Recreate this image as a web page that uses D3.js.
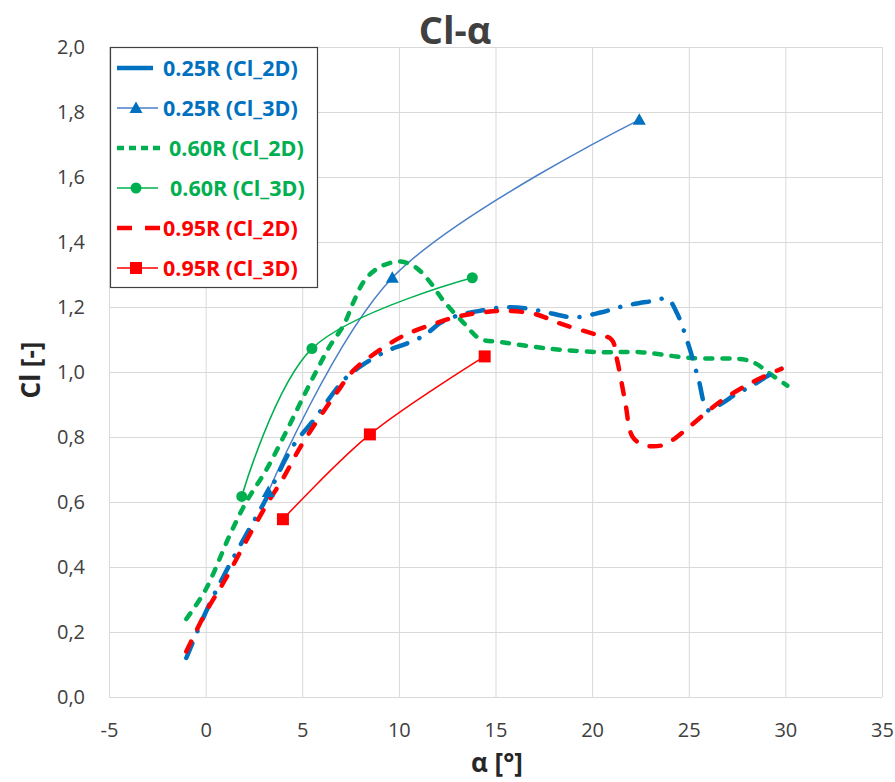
<!DOCTYPE html>
<html>
<head>
<meta charset="utf-8">
<script src="https://cdn.jsdelivr.net/npm/d3@7"></script>
<style>
  body { margin: 0; background: #fff; }
  svg { font-family: "Open Sans", sans-serif; }
</style>
</head>
<body>
<svg width="895" height="782"></svg>
<script>
const xTicks = [-5, 0, 5, 10, 15, 20, 25, 30, 35]
const yTicks = [0, 0.2, 0.4, 0.6, 0.8, 1.0, 1.2, 1.4, 1.6, 1.8, 2.0]

// 0.25R Cl_2D
const blue2dA = [-1.0, 0.0, 1.0, 2.1, 3.0, 4.5, 5.7, 6.7, 7.3, 8.2, 9.5, 10.3, 11.3, 12.2, 13.3, 14.4, 15.4, 16.7, 17.9, 19.1, 20.5, 21.7, 23.1, 23.9, 24.4, 25.0, 25.5, 26.0, 26.7, 27.5, 28.3, 29.0, 29.8]
const blue2dC = [0.12, 0.26, 0.38, 0.50, 0.595, 0.77, 0.86, 0.943, 0.984, 1.025, 1.068, 1.085, 1.112, 1.153, 1.178, 1.19, 1.199, 1.195, 1.18, 1.168, 1.184, 1.204, 1.218, 1.225, 1.18, 1.081, 0.979, 0.882, 0.903, 0.934, 0.958, 0.985, 1.01]
// 0.25R Cl_3D
const blue3dA = [3.24, 9.66, 22.44]
const blue3dC = [0.631, 1.29, 1.776]
// 0.60R Cl_2D
const green2dA = [-1.0, 0.0, 1.25, 2.1, 3.15, 4.2, 5.05, 5.75, 6.44, 7.15, 7.65, 8.2, 8.8, 9.4, 10.1, 10.8, 11.5, 12.3, 13.4, 14.2, 15.3, 17.9, 20.5, 22.5, 25.1, 27.9, 28.5, 29.1, 30.1]
const green2dC = [0.24, 0.33, 0.498, 0.60, 0.70, 0.82, 0.923, 1.005, 1.081, 1.145, 1.215, 1.28, 1.315, 1.333, 1.34, 1.325, 1.285, 1.22, 1.148, 1.102, 1.092, 1.071, 1.061, 1.061, 1.043, 1.038, 1.025, 0.999, 0.958]
// 0.60R Cl_3D
const green3dA = [1.87, 5.5, 13.8]
const green3dC = [0.617, 1.072, 1.29]
// 0.95R Cl_2D
const red2dA = [-1.0, 0.0, 1.0, 2.4, 3.24, 4.0, 4.9, 5.9, 6.8, 7.65, 8.85, 10.25, 11.8, 13.0, 14.4, 15.5, 17.0, 18.4, 20.1, 21.0, 21.3, 21.7, 22.1, 22.7, 23.6, 24.2, 25.0, 26.7, 28.3, 29.8]
const red2dC = [0.14, 0.26, 0.36, 0.513, 0.60, 0.672, 0.769, 0.861, 0.938, 1.005, 1.061, 1.112, 1.148, 1.17, 1.184, 1.188, 1.179, 1.148, 1.117, 1.10, 1.035, 0.912, 0.80, 0.775, 0.774, 0.792, 0.83, 0.912, 0.969, 1.01]
// 0.95R Cl_3D
const red3dA = [4.0, 8.5, 14.44]
const red3dC = [0.547, 0.808, 1.048]

const BLUE = '#0070c0'
const GREEN = '#00b050'
const RED = '#ff0000'

const series = [
  { name: '0.25R (Cl_2D)', a: blue2dA, c: blue2dC, color: BLUE, width: 4.5, dash: '16,13,0.1,13' },
  { name: '0.25R (Cl_3D)', a: blue3dA, c: blue3dC, color: '#4a7fc8', mcolor: BLUE, width: 1.5, marker: 'triangle' },
  { name: '0.60R (Cl_2D)', a: green2dA, c: green2dC, color: GREEN, width: 4.5, dash: '7,10' },
  { name: '0.60R (Cl_3D)', a: green3dA, c: green3dC, color: GREEN, mcolor: GREEN, width: 1.5, marker: 'circle' },
  { name: '0.95R (Cl_2D)', a: red2dA, c: red2dC, color: RED, width: 4.5, dash: '11,14' },
  { name: '0.95R (Cl_3D)', a: red3dA, c: red3dC, color: RED, mcolor: RED, width: 1.5, marker: 'square' },
]

const svg = d3.select('svg')
const box = { left: 109, right: 882, top: 47, bottom: 697 }

const x = d3.scaleLinear().domain([-5, 35]).range([box.left, box.right])
const y = d3.scaleLinear().domain([0, 2]).range([box.bottom, box.top])

// grid + tick labels
const xAxis = svg.append('g')
  .attr('transform', `translate(0,${box.bottom})`)
  .call(d3.axisBottom(x).tickValues(xTicks).tickSize(-(box.bottom - box.top)).tickPadding(24)
    .tickFormat((d) => String(d)))
const yAxis = svg.append('g')
  .attr('transform', `translate(${box.left},0)`)
  .call(d3.axisLeft(y).tickValues(yTicks).tickSize(-(box.right - box.left)).tickPadding(24)
    .tickFormat((d) => d.toFixed(1).replace('.', ',')))
for (const ax of [xAxis, yAxis]) {
  ax.select('.domain').remove()
  ax.selectAll('.tick line').attr('stroke', '#d9d9d9').attr('stroke-width', 1)
  ax.selectAll('.tick text')
    .attr('fill', '#404040')
    .style('font-family', '"Open Sans", sans-serif')
    .style('font-size', '20px')
}
xAxis.selectAll('.tick text').attr('dy', '0.32em').attr('y', 34)

// series lines
const line = d3.line()
  .x((d) => x(d[0]))
  .y((d) => y(d[1]))
  .curve(d3.curveCatmullRom.alpha(0.5))

const plot = svg.append('g')
const order = [1, 3, 5, 2, 0, 4]
for (const i of order) {
  const s = series[i]
  const pts = s.a.map((a, k) => [a, s.c[k]])
  plot.append('path')
    .attr('d', line(pts))
    .attr('fill', 'none')
    .attr('stroke', s.color)
    .attr('stroke-width', s.width)
    .attr('stroke-linecap', 'round')
    .attr('stroke-linejoin', 'round')
    .attr('stroke-dasharray', s.dash || null)
}

const drawMarker = (g, kind, cx, cy, color) => {
  if (kind === 'triangle') {
    g.append('path')
      .attr('d', `M${cx},${cy - 6.5}L${cx + 6.5},${cy + 5}L${cx - 6.5},${cy + 5}Z`)
      .attr('fill', color)
  } else if (kind === 'circle') {
    g.append('circle').attr('cx', cx).attr('cy', cy).attr('r', 5.5).attr('fill', color)
  } else {
    g.append('rect').attr('x', cx - 6).attr('y', cy - 6).attr('width', 12).attr('height', 12).attr('fill', color)
  }
}

for (const s of series) {
  if (!s.marker) continue
  s.a.forEach((a, k) => drawMarker(plot, s.marker, x(a), y(s.c[k]), s.mcolor))
}

// legend
const lg = svg.append('g')
lg.append('rect')
  .attr('x', 110.5).attr('y', 47.5).attr('width', 207).attr('height', 240)
  .attr('fill', '#fff').attr('stroke', '#404040').attr('stroke-width', 1.2)
series.forEach((s, i) => {
  const cy = 68 + i * 40
  let x1 = 153, tx = 163
  let dash = null
  if (i === 1 || i === 3 || i === 5) x1 = 158
  if (i === 2) { x1 = 161; tx = 169; dash = '7,5' }
  if (i === 3) tx = 170
  if (i === 4) { x1 = 161; dash = '15,13' }
  lg.append('line')
    .attr('x1', 117).attr('x2', x1).attr('y1', cy).attr('y2', cy)
    .attr('stroke', s.color)
    .attr('stroke-width', s.width)
    .attr('stroke-dasharray', dash)
  if (s.marker) drawMarker(lg, s.marker, 136, cy, s.mcolor)
  lg.append('text')
    .attr('x', tx).attr('y', cy).attr('dy', '0.36em')
    .attr('fill', s.color === '#4a7fc8' ? BLUE : s.color)
    .style('font-size', '21.5px').style('font-weight', 'bold')
    .text(s.name)
})

// titles
svg.append('text')
  .attr('x', 455).attr('y', 44).attr('text-anchor', 'middle')
  .attr('fill', '#404040')
  .style('font-size', '38px').style('font-weight', 'bold')
  .text('Cl-α')
svg.append('text')
  .attr('x', 497).attr('y', 772).attr('text-anchor', 'middle')
  .attr('fill', '#262626')
  .style('font-size', '26px').style('font-weight', 'bold')
  .text('α [°]')
svg.append('text')
  .attr('transform', 'translate(40,370) rotate(-90)')
  .attr('text-anchor', 'middle')
  .attr('fill', '#262626')
  .style('font-size', '26px').style('font-weight', 'bold')
  .text('Cl [-]')
</script>
</body>
</html>
